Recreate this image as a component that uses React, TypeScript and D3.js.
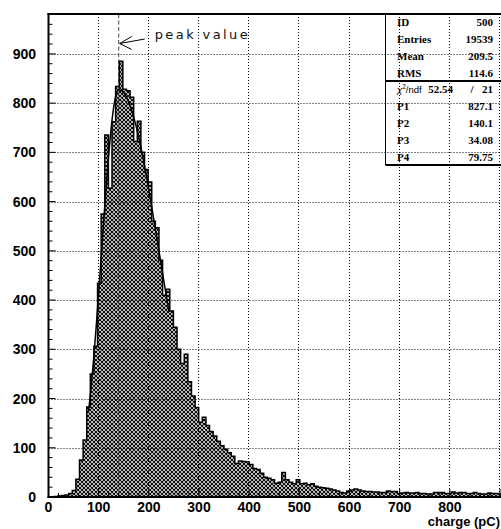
import React from "react";
import * as d3 from "d3";

// ---- data ----
const binStart = -3;
const binWidth = 7.2;
const binValues = [
  0, 0, 1, 2, 3, 4, 7, 13, 36, 75,
  116, 183, 250, 306, 434, 575, 735, 627, 762, 834,
  885, 828, 825, 812, 722, 763, 700, 665, 640, 560,
  547, 481, 410, 422, 378, 345, 300, 271, 290, 234,
  205, 182, 152, 162, 145, 133, 124, 113, 104, 97,
  90, 83, 68, 73, 72, 71, 66, 58, 56, 48,
  40, 38, 35, 28, 30, 50, 35, 30, 27, 35,
  27, 28, 25, 27, 22, 20, 19, 18, 16, 14,
  12, 9, 8, 12, 14, 16, 14, 12, 11, 11,
  10, 10, 9, 9, 12, 11, 11, 7, 8, 9,
  8, 8, 9, 7, 7, 6, 6, 9, 9, 9,
  7, 7, 10, 8, 9, 9, 7, 7, 9, 7,
  6, 6, 8, 7, 7, 6,
];

const fitX = [80, 85, 90, 95, 100, 105, 110, 115, 120, 125, 130, 135, 140, 150, 160, 170, 180, 190, 200, 210, 220, 230, 240];
const fitY = [175, 224, 281, 345, 414, 487, 560, 631, 695, 750, 792, 818, 827, 821, 802, 771, 730, 680, 624, 563, 501, 438, 377];

const xGridValues = [100, 200, 300, 400, 500, 600, 700, 800, 900];
const xTickLabels = ["0", "100", "200", "300", "400", "500", "600", "700", "800"];
const yTickLabels = ["0", "100", "200", "300", "400", "500", "600", "700", "800", "900"];
const xTitle = "charge (pC)";

const statLabels = ["ID", "Entries", "Mean", "RMS"];
const statValues = ["500", "19539", "209.5", "114.6"];
const chi2Value = "52.54";
const ndfValue = "21";
const paramLabels = ["P1", "P2", "P3", "P4"];
const paramValues = ["827.1", "140.1", "34.08", "79.75"];

const peakPosition = 140;
const annotationText = "peak value";

// ---- layout ----
const W = 501;
const H = 529;
const LEFT = 48.5;
const TOP = 14;
const BOTTOM = 497;

export default function App() {
  const x = d3.scaleLinear().domain([0, 900]).range([LEFT, 500]);
  const y = d3.scaleLinear().domain([0, 981]).range([BOTTOM, TOP]);

  const bins = binValues.map((v, i) => ({ x0: binStart + i * binWidth, v }));
  const stepData = [...bins, { x0: binStart + bins.length * binWidth, v: binValues[binValues.length - 1] }];

  const area = d3
    .area<{ x0: number; v: number }>()
    .x((d) => x(d.x0))
    .y0(y(0))
    .y1((d) => y(d.v))
    .curve(d3.curveStepAfter);
  const outline = d3
    .line<{ x0: number; v: number }>()
    .x((d) => x(d.x0))
    .y((d) => y(d.v))
    .curve(d3.curveStepAfter);

  const fitLine = d3
    .line<number>()
    .x((_, i) => x(fitX[i]))
    .y((d) => y(d))
    .curve(d3.curveMonotoneX);

  const yMajor = yTickLabels.map((t) => +t);
  const yMinor = d3.range(0, 981, 20).filter((v) => v % 100 !== 0);
  const xMajor = d3.range(0, 901, 100);
  const xMinor = d3.range(0, 901, 20).filter((v) => v % 100 !== 0);

  const sans = "'Liberation Sans', Arial, Helvetica, sans-serif";
  const serif = "'Liberation Serif', 'Times New Roman', serif";

  const boxLeft = 385.5;
  const boxTop = TOP;
  const sepY = 81;
  const boxBottom = 165;
  const rowH = (sepY - boxTop) / 4;
  const rowH2 = (boxBottom - sepY) / 5;
  const labelX = 397;
  const valueX = 493;

  const px = x(peakPosition);

  return (
    <svg
      width={W}
      height={H}
      viewBox={`0 0 ${W} ${H}`}
      style={{ position: "absolute", left: 0, top: 0, background: "#fff", overflow: "hidden" }}
    >
      <defs>
        <pattern id="xhatch" width="4" height="4" patternUnits="userSpaceOnUse">
          <path
            d="M-1,1 L1,-1 M0,4 L4,0 M3,5 L5,3 M-1,3 L1,5 M0,0 L4,4 M3,-1 L5,1"
            stroke="#000"
            strokeWidth={1.1}
          />
        </pattern>
        <clipPath id="plotClip">
          <rect x={LEFT} y={TOP} width={W - LEFT} height={BOTTOM - TOP} />
        </clipPath>
      </defs>
      <rect x={0} y={0} width={W} height={H} fill="#fff" />

      {/* grid */}
      <g stroke="#000" strokeWidth={1} strokeDasharray="1,2">
        {yMajor.filter((v) => v > 0).map((v) => (
          <line key={"gy" + v} x1={LEFT} x2={W} y1={Math.round(y(v)) + 0.5} y2={Math.round(y(v)) + 0.5} />
        ))}
        {xGridValues.map((v) => (
          <line key={"gx" + v} x1={Math.round(x(v)) - 0.5} x2={Math.round(x(v)) - 0.5} y1={TOP} y2={BOTTOM} />
        ))}
      </g>

      {/* histogram */}
      <g clipPath="url(#plotClip)">
        <path d={area(stepData) || ""} fill="url(#xhatch)" />
        <line x1={px} x2={px} y1={TOP} y2={BOTTOM} stroke="#444" strokeWidth={1} strokeDasharray="4,2.5" />
        <path d={outline(stepData) || ""} fill="none" stroke="#000" strokeWidth={1.5} />
        <path d={fitLine(fitY) || ""} fill="none" stroke="#000" strokeWidth={1.5} />
      </g>

      {/* ticks */}
      <g stroke="#000" strokeWidth={1}>
        {yMajor.map((v) => (
          <line key={"ty" + v} x1={LEFT} x2={LEFT + 7} y1={y(v)} y2={y(v)} />
        ))}
        {yMinor.map((v) => (
          <line key={"tym" + v} x1={LEFT} x2={LEFT + 4} y1={y(v)} y2={y(v)} />
        ))}
        {xMajor.map((v) => (
          <line key={"tx" + v} x1={x(v)} x2={x(v)} y1={BOTTOM} y2={BOTTOM - 8} />
        ))}
        {xMinor.map((v) => (
          <line key={"txm" + v} x1={x(v)} x2={x(v)} y1={BOTTOM} y2={BOTTOM - 4} />
        ))}
      </g>

      {/* frame */}
      <line x1={LEFT} x2={LEFT} y1={TOP - 1} y2={BOTTOM + 1} stroke="#000" strokeWidth={2} />
      <line x1={LEFT - 1} x2={W} y1={BOTTOM} y2={BOTTOM} stroke="#000" strokeWidth={2} />
      <line x1={LEFT - 1} x2={W} y1={TOP} y2={TOP} stroke="#000" strokeWidth={2} />

      {/* tick labels */}
      <g fontFamily={sans} fontWeight="bold" fontSize={14} fill="#000">
        {yTickLabels.map((t) => (
          <text key={"ly" + t} x={36} y={y(+t) + 5} textAnchor="end">
            {t}
          </text>
        ))}
        {xTickLabels.map((t) => (
          <text key={"lx" + t} x={x(+t)} y={511.5} textAnchor="middle">
            {t}
          </text>
        ))}
      </g>
      <text x={500} y={525.8} textAnchor="end" fontFamily={sans} fontWeight="bold" fontSize={13}>
        {xTitle}
      </text>

      {/* annotation */}
      <g stroke="#000" strokeWidth={1} fill="none">
        <line x1={px + 1} y1={43.5} x2={px + 26} y2={39} />
        <line x1={px + 1} y1={43.5} x2={px + 13} y2={36.5} />
        <line x1={px + 1} y1={43.5} x2={px + 13} y2={49.5} />
      </g>
      <text
        x={px + 36}
        y={38.5}
        fontFamily="'DejaVu Sans', sans-serif"
        fontSize={13}
        letterSpacing={2.4}
        fill="#111"
      >
        {annotationText}
      </text>

      {/* stats box */}
      <line x1={boxLeft} x2={boxLeft} y1={boxTop} y2={boxBottom} stroke="#000" strokeWidth={1} />
      <line x1={boxLeft} x2={W} y1={sepY} y2={sepY} stroke="#000" strokeWidth={2} />
      <line x1={boxLeft} x2={W} y1={boxBottom} y2={boxBottom} stroke="#000" strokeWidth={2} />
      <g fontFamily={serif} fontWeight="bold" fontSize={11} fill="#000">
        {statLabels.map((l, i) => (
          <text key={"sl" + l} x={labelX} y={boxTop + rowH * (i + 0.5) + 4}>
            {l}
          </text>
        ))}
        {statValues.map((v, i) => (
          <text key={"sv" + i} x={valueX} y={boxTop + rowH * (i + 0.5) + 4} textAnchor="end">
            {v}
          </text>
        ))}
        <text x={453} y={sepY + rowH2 * 0.5 + 4} textAnchor="end">
          {chi2Value}
        </text>
        <text x={472} y={sepY + rowH2 * 0.5 + 4} textAnchor="middle">
          /
        </text>
        <text x={valueX} y={sepY + rowH2 * 0.5 + 4} textAnchor="end">
          {ndfValue}
        </text>
        {paramLabels.map((l, i) => (
          <text key={"pl" + l} x={labelX} y={sepY + rowH2 * (i + 1.5) + 4}>
            {l}
          </text>
        ))}
        {paramValues.map((v, i) => (
          <text key={"pv" + i} x={valueX} y={sepY + rowH2 * (i + 1.5) + 4} textAnchor="end">
            {v}
          </text>
        ))}
      </g>
      <text x={labelX} y={sepY + rowH2 * 0.5 + 4} fontFamily={sans} fontSize={9.5} fill="#000">
        <tspan fontStyle="italic">χ</tspan>
        <tspan dy={-4} fontSize={6.5}>
          2
        </tspan>
        <tspan dy={4}>/ndf</tspan>
      </text>
    </svg>
  );
}
